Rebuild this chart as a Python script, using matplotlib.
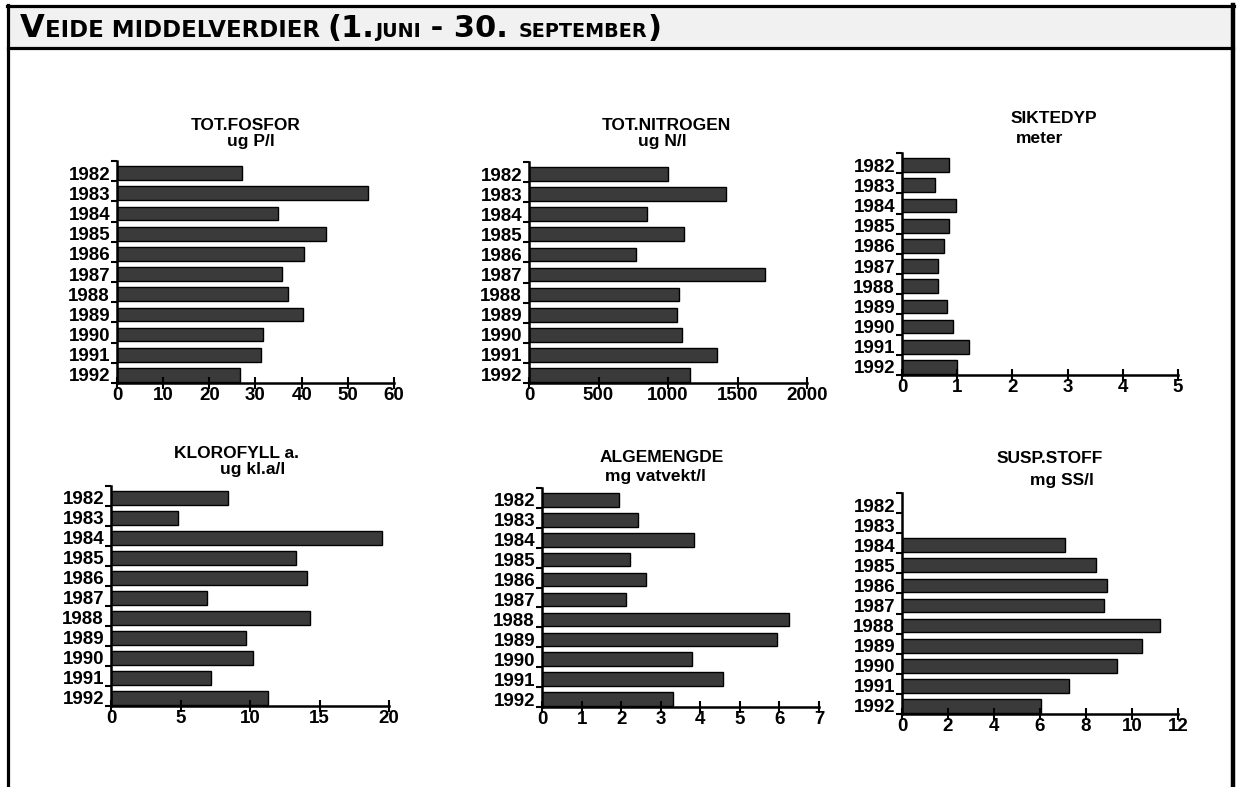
import numpy as np
import matplotlib
matplotlib.use('Agg')
import matplotlib.pyplot as plt
from matplotlib.patches import Rectangle

W, H = 1237, 787

years = ['1982', '1983', '1984', '1985', '1986', '1987', '1988', '1989', '1990', '1991', '1992']

tot_fosfor = [27.0, 54.3, 34.8, 45.2, 40.6, 35.7, 37.0, 40.2, 31.6, 31.2, 26.7]
tot_nitrogen = [1003, 1416, 847, 1116, 768, 1701, 1082, 1068, 1104, 1351, 1161]
siktedyp = [0.85, 0.60, 0.97, 0.86, 0.76, 0.66, 0.66, 0.81, 0.93, 1.21, 1.00]
klorofyll = [8.4, 4.8, 19.5, 13.3, 14.1, 6.9, 14.3, 9.7, 10.2, 7.2, 11.3]
algemengde = [1.94, 2.42, 3.83, 2.23, 2.62, 2.12, 6.23, 5.93, 3.78, 4.58, 3.31]
susp_stoff = [np.nan, np.nan, 7.1, 8.45, 8.9, 8.8, 11.2, 10.45, 9.35, 7.25, 6.05]

titles = ['TOT.FOSFOR', 'TOT.NITROGEN', 'SIKTEDYP', 'KLOROFYLL a.', 'ALGEMENGDE', 'SUSP.STOFF']
units = ['ug P/l', 'ug N/l', 'meter', 'ug kl.a/l', 'mg vatvekt/l', 'mg SS/l']
x_max = [60, 2000, 5, 20, 7, 12]
x_step = [10, 500, 1, 5, 1, 2]
series = [tot_fosfor, tot_nitrogen, siktedyp, klorofyll, algemengde, susp_stoff]

# axes boxes in pixels: left, right, top, bottom
boxes = [(117, 394, 161, 383), (529, 807, 162, 383), (902, 1178, 153, 375),
         (111, 389, 486, 706), (542, 819, 488, 707), (902, 1178, 493, 714)]
# title placement in pixels: x/baseline of line 1, x/baseline of line 2
title_pos = [(246, 130, 251, 146), (666, 130, 662, 146), (1054, 123, 1040, 143),
             (237, 458, 253, 474), (662, 462, 655, 481), (1050, 463, 1062, 485)]

FONT = 'Liberation Sans'
plt.rcParams['font.family'] = FONT

fig = plt.figure(figsize=(W / 100, H / 100), dpi=100)

# background layer in pixel coordinates
bg = fig.add_axes([0, 0, 1, 1])
bg.set_xlim(0, W)
bg.set_ylim(H, 0)
bg.axis('off')
bg.add_patch(Rectangle((8, 6), 1225, 42, facecolor='#f1f1f1', edgecolor='none'))
bg.plot([8, 8], [5, H], color='black', lw=2.3)
bg.plot([7, 1234], [6, 6], color='black', lw=2.3)
bg.plot([8, 1233], [48, 48], color='black', lw=2.3)
bg.plot([1233, 1233], [5, H], color='black', lw=3.2)

# heading with mixed letter sizes
title_parts = [('V', 23), ('EIDE MIDDELVERDIER ', 16.5), ('(1.', 22), ('JUNI', 13.8),
               (' - 30. ', 22), ('SEPTEMBER', 13.8), (')', 22)]
renderer = fig.canvas.get_renderer()
x = 20
for s, size in title_parts:
    t = bg.text(x, 37, s, fontsize=size, fontweight='bold', family='DejaVu Sans',
                ha='left', va='baseline')
    x += t.get_window_extent(renderer).width

for i in range(6):
    l, r, top, bot = boxes[i]
    ax = fig.add_axes([l / W, 1 - bot / H, (r - l) / W, (bot - top) / H])
    ypos = np.arange(len(years))
    ax.barh(ypos, series[i], height=0.68, color='#3a3a3a', edgecolor='black', linewidth=1)
    ax.set_ylim(10.4, -0.6)
    ax.set_xlim(0, x_max[i])
    ax.set_xticks(np.arange(0, x_max[i] + x_step[i] / 2, x_step[i]))
    ax.set_yticks(ypos)
    ax.set_yticklabels(years)
    ax.set_yticks(np.arange(12) - 0.6, minor=True)
    for s in ['top', 'right']:
        ax.spines[s].set_visible(False)
    for s in ['left', 'bottom']:
        ax.spines[s].set_linewidth(1.8)
    ax.tick_params(axis='y', which='major', length=0, pad=5, labelsize=13.5)
    ax.tick_params(axis='y', which='minor', length=4, width=1.5, direction='out')
    ax.tick_params(axis='x', direction='inout', length=8, width=1.5, pad=-1, labelsize=13.5)
    for lab in ax.get_xticklabels() + ax.get_yticklabels():
        lab.set_fontweight('bold')
    ax.set_facecolor('none')

    x1, y1, x2, y2 = title_pos[i]
    bg.text(x1, y1, titles[i], fontsize=12.5, fontweight='bold', ha='center', va='baseline')
    bg.text(x2, y2, units[i], fontsize=12.5, fontweight='bold', ha='center', va='baseline')

fig.savefig('out.png', dpi=100)
